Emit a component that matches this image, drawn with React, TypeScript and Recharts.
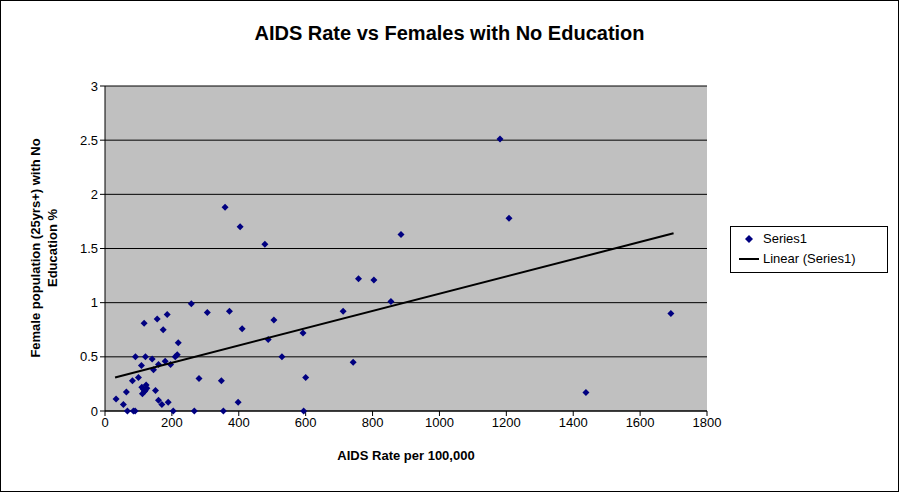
import React from "react";
import { ScatterChart, Scatter, XAxis, YAxis, CartesianGrid } from "recharts";

const aidsRate = [33, 55, 64, 67, 85, 90, 82, 91, 100, 109, 117, 121, 110, 115, 120, 125, 112, 118, 123,
  141, 145, 151, 156, 160, 160, 170, 174, 180, 186, 189, 196, 204, 210, 216, 219, 258, 267, 281, 306,
  348, 354, 372, 398, 410, 488, 505, 359, 404, 478, 529, 592, 600, 594, 712, 742, 758, 804, 855, 885,
  1181, 1208, 1438, 1692];
const femaleNoEdu = [0.11, 0.06, 0.175, 0, 0, 0, 0.28, 0.5, 0.31, 0.42, 0.81, 0.5, 0.22, 0.2, 0.19, 0.21, 0.16, 0.18, 0.24,
  0.48, 0.38, 0.19, 0.85, 0.43, 0.1, 0.06, 0.75, 0.46, 0.89, 0.08, 0.43, 0, 0.5, 0.52, 0.63, 0.99, 0, 0.3, 0.91,
  0.28, 0, 0.92, 0.08, 0.76, 0.66, 0.84, 1.88, 1.7, 1.54, 0.5, 0.72, 0.31, 0, 0.92, 0.45, 1.22, 1.21, 1.01, 1.63,
  2.51, 1.78, 0.17, 0.9];
const trendX = [30, 1700];
const trendY = [0.31, 1.64];
const xTicks = [0, 200, 400, 600, 800, 1000, 1200, 1400, 1600, 1800];
const yTicks = [0, 0.5, 1, 1.5, 2, 2.5, 3];

const points = aidsRate.map((x, i) => ({ x, y: femaleNoEdu[i] }));
const trend = trendX.map((x, i) => ({ x, y: trendY[i] }));

const Diamond = (p: any) => (
  <polygon
    points={`${p.cx},${p.cy - 3.5} ${p.cx + 3.5},${p.cy} ${p.cx},${p.cy + 3.5} ${p.cx - 3.5},${p.cy}`}
    fill="#000080"
  />
);

const font = "Arial, 'Liberation Sans', sans-serif";

export default function App() {
  return (
    <div style={{ position: "fixed", left: 0, top: 0, width: 899, height: 492, background: "#fff", fontFamily: font }}>
      <div style={{ position: "absolute", inset: 0, border: "1px solid #000", boxSizing: "border-box" }} />
      <div style={{ position: "absolute", top: 22, left: 0, width: 899, textAlign: "center", fontSize: 20, fontWeight: "bold" }}>
        AIDS Rate vs Females with No Education
      </div>
      <ScatterChart width={899} height={492} margin={{ top: 86, right: 192, left: 0, bottom: 0 }}>
        <CartesianGrid horizontal vertical={false} stroke="#000" fill="#C0C0C0" />
        <XAxis
          type="number" dataKey="x" domain={[0, 1800]} ticks={xTicks} height={81}
          stroke="#000" tick={{ fill: "#000", fontSize: 13, fontFamily: font }} tickSize={5}
          label={{ value: "AIDS Rate per 100,000", position: "insideTop", offset: 40, fill: "#000", fontSize: 13, fontWeight: "bold", fontFamily: font }}
        />
        <YAxis
          type="number" dataKey="y" domain={[0, 3]} ticks={yTicks} width={105}
          stroke="#000" tick={{ fill: "#000", fontSize: 13, fontFamily: font }} tickSize={5}
        />
        <Scatter data={points} shape={Diamond} isAnimationActive={false} />
        <Scatter data={trend} line={{ stroke: "#000", strokeWidth: 2 }} shape={() => null} isAnimationActive={false} />
        <text x={0} y={0} transform="translate(48,248) rotate(-90)" textAnchor="middle" fontSize={13} fontWeight="bold" fontFamily={font}>
          <tspan x={0} dy={-8}>Female population (25yrs+) with No</tspan>
          <tspan x={0} dy={17}>Education %</tspan>
        </text>
      </ScatterChart>
      <div style={{ position: "absolute", left: 730, top: 226, width: 158, height: 47, border: "1px solid #000", boxSizing: "border-box", fontSize: 13 }}>
        <div style={{ position: "absolute", left: 8, top: 4, display: "flex", alignItems: "center" }}>
          <svg width={20} height={10}><polygon points="10,1 14,5 10,9 6,5" fill="#000080" /></svg>
          <span style={{ marginLeft: 4 }}>Series1</span>
        </div>
        <div style={{ position: "absolute", left: 8, top: 24, display: "flex", alignItems: "center" }}>
          <svg width={20} height={10}><line x1={0} y1={5} x2={20} y2={5} stroke="#000" strokeWidth={2} /></svg>
          <span style={{ marginLeft: 4 }}>Linear (Series1)</span>
        </div>
      </div>
    </div>
  );
}
